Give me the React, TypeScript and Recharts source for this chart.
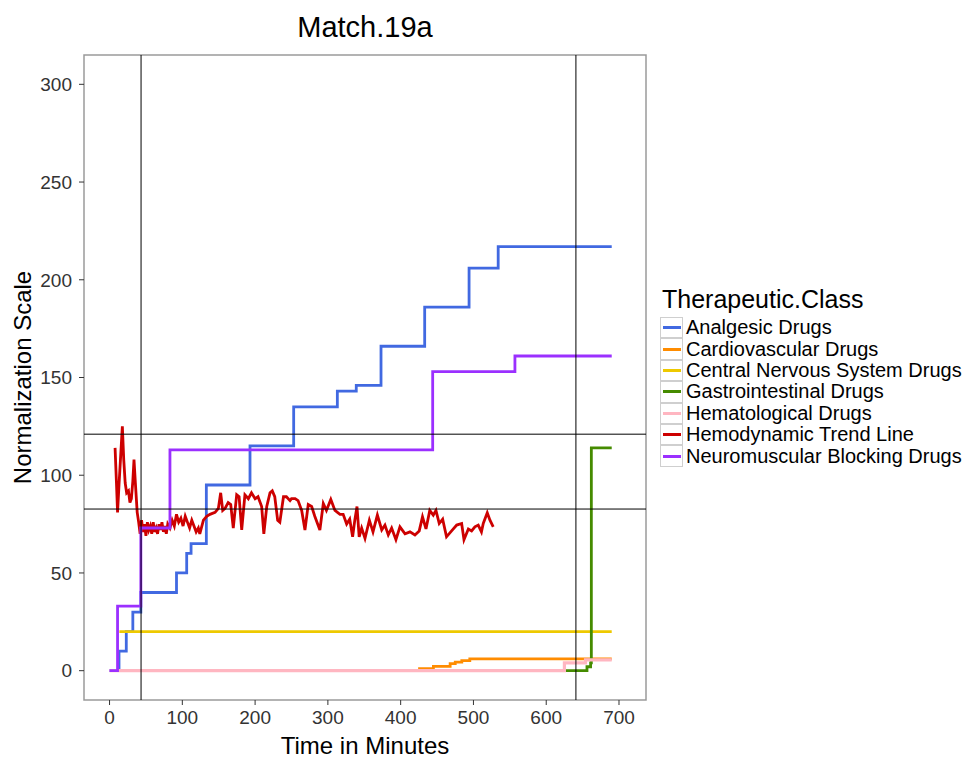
import React from 'react';
import {
  ComposedChart,
  Line,
  XAxis,
  YAxis,
  ReferenceLine,
  ReferenceArea,
} from 'recharts';

// step series: each point is where the cumulative value changes (t = minutes)
const analgesic = [
  { t: 0, v: 0 }, { t: 13, v: 10 }, { t: 23, v: 20 }, { t: 32, v: 30 },
  { t: 43, v: 40 }, { t: 92, v: 50 }, { t: 106, v: 60 }, { t: 112, v: 65 },
  { t: 133, v: 95 }, { t: 193, v: 115 }, { t: 253, v: 135 }, { t: 313, v: 143 },
  { t: 339, v: 146 }, { t: 373, v: 166 }, { t: 433, v: 186 }, { t: 494, v: 206 },
  { t: 534, v: 217 }, { t: 690, v: 217 },
];

const cardiovascular = [
  { t: 424, v: 1 }, { t: 445, v: 2.2 }, { t: 468, v: 3.6 }, { t: 475, v: 4.4 },
  { t: 484, v: 5.1 }, { t: 495, v: 6 }, { t: 690, v: 6 },
];

const centralNervous = [
  { t: 13.5, v: 20 }, { t: 690, v: 20 },
];

const gastro = [
  { t: 627, v: 0 }, { t: 656, v: 2 }, { t: 661, v: 4 }, { t: 662, v: 114 }, { t: 690, v: 114 },
];

const hematological = [
  { t: 0, v: 0 }, { t: 625, v: 4 }, { t: 654, v: 5.5 }, { t: 690, v: 5.5 },
];

const neuromuscular = [
  { t: 0, v: 0 }, { t: 11, v: 33 }, { t: 43, v: 73 }, { t: 83, v: 113 },
  { t: 444, v: 153 }, { t: 557, v: 161 }, { t: 690, v: 161 },
];

const hemodynamic = [
  { t: 7.6, v: 114 }, { t: 9.5, v: 96 }, { t: 11, v: 81 }, { t: 13, v: 95 },
  { t: 15, v: 108 }, { t: 17.6, v: 125 }, { t: 19.5, v: 108 }, { t: 21.5, v: 96 },
  { t: 23.5, v: 91 }, { t: 26, v: 92 }, { t: 28, v: 86 }, { t: 30, v: 88 },
  { t: 32, v: 97 }, { t: 33.6, v: 108 }, { t: 35.5, v: 96 }, { t: 38, v: 81 },
  { t: 40, v: 76 }, { t: 42, v: 70 }, { t: 44, v: 77 }, { t: 46, v: 71 },
  { t: 48, v: 75 }, { t: 50, v: 69 }, { t: 52, v: 76 }, { t: 54, v: 72 },
  { t: 56, v: 74 }, { t: 58, v: 70 }, { t: 60, v: 76 }, { t: 62, v: 71 },
  { t: 64, v: 73 }, { t: 66, v: 70 }, { t: 68, v: 75 }, { t: 70, v: 72 },
  { t: 72, v: 76 }, { t: 74, v: 71 }, { t: 76, v: 74 }, { t: 78, v: 70 },
  { t: 80, v: 75 }, { t: 83, v: 73 }, { t: 86, v: 77 }, { t: 89, v: 74 },
  { t: 92, v: 80 }, { t: 95, v: 76 }, { t: 98, v: 78 }, { t: 101, v: 74 },
  { t: 104, v: 79 }, { t: 107, v: 76 }, { t: 110, v: 73 }, { t: 113, v: 77 },
  { t: 116, v: 74 }, { t: 119, v: 71 }, { t: 122, v: 73 }, { t: 124, v: 70 },
  { t: 129, v: 77 }, { t: 133.5, v: 79 }, { t: 138, v: 80 }, { t: 145, v: 81 },
  { t: 149.5, v: 83 }, { t: 152.7, v: 91 }, { t: 155.5, v: 82 }, { t: 158.7, v: 83 },
  { t: 163, v: 86 }, { t: 166.5, v: 85 }, { t: 170, v: 73 }, { t: 174.7, v: 90 },
  { t: 178, v: 89 }, { t: 181.6, v: 72 }, { t: 186, v: 90 }, { t: 190.7, v: 88 },
  { t: 195, v: 91 }, { t: 200, v: 88 }, { t: 204, v: 89 }, { t: 209, v: 84 },
  { t: 212, v: 70 }, { t: 216, v: 84 }, { t: 220.5, v: 91 }, { t: 223.6, v: 92 },
  { t: 227, v: 89 }, { t: 231, v: 77 }, { t: 234, v: 76 }, { t: 239, v: 89 },
  { t: 243, v: 89 }, { t: 248, v: 87 }, { t: 250, v: 88 }, { t: 255, v: 88 },
  { t: 259, v: 87 }, { t: 264, v: 82 }, { t: 268.5, v: 72 }, { t: 273, v: 85 },
  { t: 277.7, v: 84 }, { t: 282, v: 79 }, { t: 289, v: 72 }, { t: 293.7, v: 85.5 },
  { t: 298, v: 82 }, { t: 304, v: 87.6 }, { t: 309.7, v: 82 }, { t: 316.6, v: 80 },
  { t: 321, v: 80 }, { t: 325.8, v: 75 }, { t: 330, v: 77.5 }, { t: 334, v: 68.5 },
  { t: 337, v: 77 }, { t: 340, v: 84 }, { t: 343, v: 68.5 }, { t: 346.4, v: 73 },
  { t: 351, v: 67.7 }, { t: 357, v: 77 }, { t: 362, v: 71 }, { t: 368, v: 79.6 },
  { t: 374, v: 72 }, { t: 378.4, v: 74.5 }, { t: 383, v: 69.5 }, { t: 387.6, v: 73 },
  { t: 393.5, v: 67 }, { t: 399, v: 73.6 }, { t: 406, v: 70 }, { t: 412.8, v: 71 },
  { t: 419.6, v: 69.4 }, { t: 425.5, v: 71.5 }, { t: 430, v: 78.7 }, { t: 434.8, v: 72.5 },
  { t: 440, v: 82 }, { t: 444.8, v: 79.6 }, { t: 448.5, v: 82 }, { t: 453, v: 75.3 },
  { t: 457.7, v: 77.5 }, { t: 463, v: 68.5 }, { t: 470, v: 71.5 }, { t: 477, v: 74.5 },
  { t: 483.8, v: 75.3 }, { t: 487, v: 67 }, { t: 493, v: 72.5 }, { t: 497.5, v: 71.5 },
  { t: 502, v: 73.6 }, { t: 506.6, v: 74.5 }, { t: 511, v: 71 }, { t: 513.5, v: 75.3 },
  { t: 519, v: 80.8 }, { t: 522.7, v: 77 }, { t: 527.2, v: 73.6 },
];

const xTicks = [0, 100, 200, 300, 400, 500, 600, 700];
const yTicks = [0, 50, 100, 150, 200, 250, 300];
const timeMarkers = [43.3, 640.8];
const levelMarkers = [121, 82.7];

const legendItems = [
  { name: 'Analgesic Drugs', color: '#4169E1' },
  { name: 'Cardiovascular Drugs', color: '#FF8C00' },
  { name: 'Central Nervous System Drugs', color: '#EEC900' },
  { name: 'Gastrointestinal Drugs', color: '#458B00' },
  { name: 'Hematological Drugs', color: '#FFB6C1' },
  { name: 'Hemodynamic Trend Line', color: '#CD0000' },
  { name: 'Neuromuscular Blocking Drugs', color: '#9B30FF' },
];

const font = '"Liberation Sans", Arial, sans-serif';
const lineW = 2.8;

const App = () => {
  return (
    <div style={{ position: 'absolute', left: 0, top: 0, width: 968, height: 759, background: '#fff', fontFamily: font }}>
      <div style={{ position: 'absolute', left: 0, top: 13, width: 730, textAlign: 'center', fontSize: 29, lineHeight: '29px', color: '#000' }}>
        Match.19a
      </div>
      <ComposedChart width={968} height={759} margin={{ top: 55, right: 322, bottom: 0, left: 0 }}>
        <XAxis
          type="number"
          dataKey="t"
          domain={[-35.1, 737.1]}
          allowDataOverflow
          ticks={xTicks}
          axisLine={false}
          tickLine={{ stroke: '#333' }}
          tickSize={5}
          tickMargin={6}
          height={59}
          tick={{ fill: '#333', fontSize: 19 }}
          label={{ value: 'Time in Minutes', position: 'insideBottom', offset: 5, fill: '#000', fontSize: 24 }}
        />
        <YAxis
          type="number"
          domain={[-15, 315]}
          allowDataOverflow
          ticks={yTicks}
          axisLine={false}
          tickLine={{ stroke: '#333' }}
          tickSize={5}
          tickMargin={7}
          width={84}
          tick={{ fill: '#333', fontSize: 19 }}
          label={{ value: 'Normalization Scale', angle: -90, position: 'insideLeft', offset: 22, fill: '#000', fontSize: 24, style: { textAnchor: 'middle' } }}
        />
        <ReferenceArea x1={-35.1} x2={737.1} y1={-15} y2={315} fill="#fff" fillOpacity={0} stroke="#9a9a9a" strokeWidth={1.5} />

        <Line data={analgesic} dataKey="v" type="stepAfter" stroke="#4169E1" strokeWidth={lineW} dot={false} isAnimationActive={false} />
        <Line data={cardiovascular} dataKey="v" type="stepAfter" stroke="#FF8C00" strokeWidth={lineW} dot={false} isAnimationActive={false} />
        <Line data={centralNervous} dataKey="v" type="stepAfter" stroke="#EEC900" strokeWidth={lineW} dot={false} isAnimationActive={false} />
        <Line data={gastro} dataKey="v" type="stepAfter" stroke="#458B00" strokeWidth={lineW} dot={false} isAnimationActive={false} />
        <Line data={hematological} dataKey="v" type="stepAfter" stroke="#FFB6C1" strokeWidth={3.2} dot={false} isAnimationActive={false} />
        <Line data={hemodynamic} dataKey="v" type="linear" stroke="#CD0000" strokeWidth={lineW} dot={false} isAnimationActive={false} />
        <Line data={neuromuscular} dataKey="v" type="stepAfter" stroke="#9B30FF" strokeWidth={lineW} dot={false} isAnimationActive={false} />

        {timeMarkers.map((x) => (
          <ReferenceLine key={'x' + x} x={x} stroke="#000" strokeWidth={1} />
        ))}
        {levelMarkers.map((y) => (
          <ReferenceLine key={'y' + y} y={y} stroke="#000" strokeWidth={1} />
        ))}
      </ComposedChart>

      {/* legend */}
      <div style={{ position: 'absolute', left: 662, top: 286, color: '#000' }}>
        <div style={{ fontSize: 25, lineHeight: '27px', marginBottom: 4 }}>Therapeutic.Class</div>
        {legendItems.map((item) => (
          <div key={item.name} style={{ display: 'flex', alignItems: 'center', height: 21.4, marginLeft: -2 }}>
            <div style={{ width: 21, height: 19.4, border: '1px solid #cfcfcf', display: 'flex', alignItems: 'center', justifyContent: 'center', boxSizing: 'content-box' }}>
              <div style={{ width: 18, height: 3, background: item.color }} />
            </div>
            <span style={{ fontSize: 20, marginLeft: 3, whiteSpace: 'nowrap' }}>{item.name}</span>
          </div>
        ))}
      </div>
    </div>
  );
};

export default App;
